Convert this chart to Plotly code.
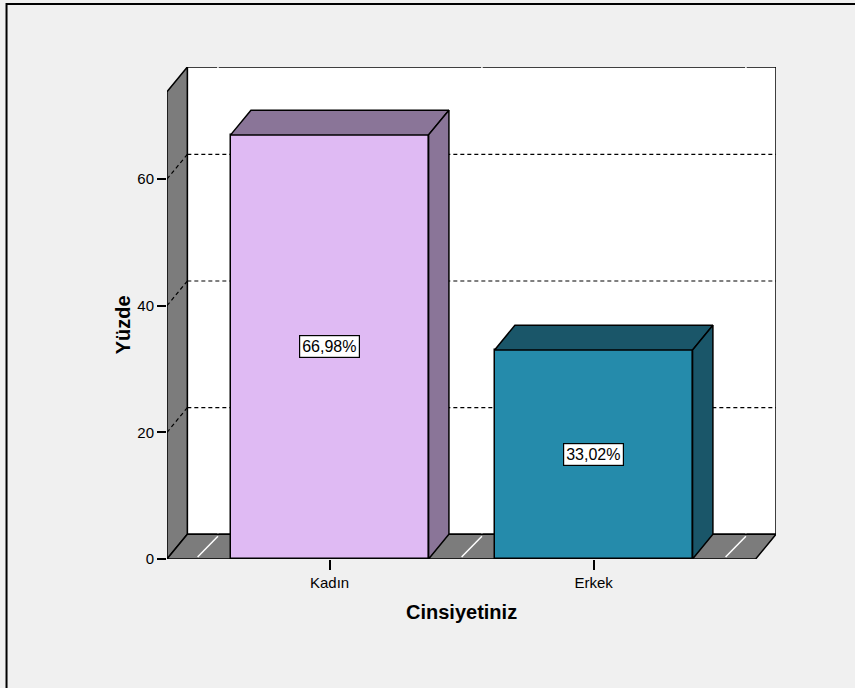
import plotly.graph_objects as go

# ---- data ----
categories = ["Kadın", "Erkek"]
percentages = [66.98, 33.02]
y_ticks = [0, 20, 40, 60]
x_title = "Cinsiyetiniz"
y_title = "Yüzde"

# ---- styling ----
front_colors = ["#DFBAF3", "#258BAB"]
shade_colors = ["#8A7598", "#1A5669"]
wall_grey = "#7C7C7C"
bg = "#F0F0F0"
font_family = "Liberation Sans, Arial, sans-serif"

# axis geometry (category units / percent units)
x_lo, x_hi = -0.616, 1.691
y_lo, y_hi = 0.0, 77.7
dx, dy = 0.077, 3.9          # depth offset of the back plane
bar_w = 0.75
front_top = y_hi - dy
xpos = list(range(len(categories)))

# plot area in pixels
L, R, T, B = 167, 79, 67, 129
W, H = 855, 688
pw, ph = W - L - R, H - T - B

fig = go.Figure()

grid_dash = "4px,3px"
shapes = []
# back wall
shapes.append(dict(type="rect", xref="x", yref="y", x0=x_lo + dx, x1=x_hi, y0=dy, y1=y_hi,
                   fillcolor="white", line=dict(color="black", width=1.5), layer="below"))
# white category dividers on the back wall
for b in [-0.5, 0.5, 1.5]:
    shapes.append(dict(type="line", xref="x", yref="y", x0=b + dx, x1=b + dx, y0=dy, y1=y_hi,
                       line=dict(color="white", width=1.5), layer="below"))
# left side wall
shapes.append(dict(type="path", xref="x", yref="y",
                   path=f"M {x_lo},{y_lo} L {x_lo + dx},{dy} L {x_lo + dx},{y_hi} L {x_lo},{front_top} Z",
                   fillcolor=wall_grey, line=dict(color="black", width=1.5), layer="below"))
# floor
shapes.append(dict(type="path", xref="x", yref="y",
                   path=f"M {x_lo},{y_lo} L {x_hi - dx},{y_lo} L {x_hi},{dy} L {x_lo + dx},{dy} Z",
                   fillcolor=wall_grey, line=dict(color="black", width=1.5), layer="below"))
# white category dividers on the floor
for b in [-0.5, 0.5, 1.5]:
    shapes.append(dict(type="line", xref="x", yref="y", x0=b, x1=b + dx, y0=0.3, y1=dy - 0.3,
                       line=dict(color="white", width=1.5), layer="below"))
# dashed gridlines: across the side wall, then along the back wall
for t in y_ticks[1:]:
    shapes.append(dict(type="line", xref="x", yref="y", x0=x_lo, x1=x_lo + dx, y0=t, y1=t + dy,
                       line=dict(color="black", width=1.2, dash=grid_dash), layer="below"))
    shapes.append(dict(type="line", xref="x", yref="y", x0=x_lo + dx, x1=x_hi, y0=t + dy, y1=t + dy,
                       line=dict(color="black", width=1.2, dash=grid_dash), layer="below"))
# outer frame
shapes.append(dict(type="rect", xref="paper", yref="paper", x0=-0.2635, x1=1.3, y0=-0.4,
                   y1=(H - B - 4) / ph,
                   fillcolor="rgba(0,0,0,0)", line=dict(color="black", width=2), layer="above"))

# front faces of the bars
fig.add_trace(go.Bar(x=xpos, y=percentages, width=bar_w, base=0,
                     marker=dict(color=front_colors, line=dict(color="black", width=1.5)),
                     hoverinfo="skip", showlegend=False))

# top and side faces of the bars
for c, v, col in zip(xpos, percentages, shade_colors):
    l, r = c - bar_w / 2, c + bar_w / 2
    fig.add_trace(go.Scatter(x=[l, l + dx, r + dx, r, l], y=[v, v + dy, v + dy, v, v],
                             mode="lines", fill="toself", fillcolor=col,
                             line=dict(color="black", width=1.5),
                             hoverinfo="skip", showlegend=False))
    fig.add_trace(go.Scatter(x=[r, r + dx, r + dx, r, r], y=[0, dy, v + dy, v, 0],
                             mode="lines", fill="toself", fillcolor=col,
                             line=dict(color="black", width=1.5),
                             hoverinfo="skip", showlegend=False))

# value labels
annotations = []
for c, v in zip(xpos, percentages):
    annotations.append(dict(x=c, y=v / 2, xref="x", yref="y", showarrow=False,
                            text=f"{v:.2f}".replace(".", ",") + "%",
                            font=dict(family=font_family, size=16, color="black"),
                            bgcolor="white", bordercolor="black", borderwidth=1.2, borderpad=2))
# axis titles
annotations.append(dict(x=(x_lo + x_hi - dx) / 2, y=(H - B - 612) / ph, xref="x", yref="paper",
                        showarrow=False, text=f"<b>{x_title}</b>",
                        font=dict(family=font_family, size=20, color="black"),
                        xanchor="center", yanchor="middle"))
annotations.append(dict(x=(123 - L) / pw, y=front_top / 2, xref="paper", yref="y", showarrow=False,
                        text=f"<b>{y_title}</b>", textangle=-90,
                        font=dict(family=font_family, size=20, color="black"),
                        xanchor="center", yanchor="middle"))

fig.update_layout(
    width=W, height=H,
    margin=dict(l=L, r=R, t=T, b=B, pad=0),
    paper_bgcolor=bg, plot_bgcolor=bg,
    shapes=shapes, annotations=annotations,
    font=dict(family=font_family, size=15, color="black"),
    xaxis=dict(range=[x_lo, x_hi], tickvals=xpos, ticktext=categories,
               ticks="outside", ticklen=10, tickwidth=1.5, tickcolor="black",
               showgrid=False, zeroline=False, showline=False, fixedrange=True,
               tickfont=dict(size=15)),
    yaxis=dict(range=[y_lo, y_hi], tickvals=y_ticks,
               ticks="outside", ticklen=9, tickwidth=1.5, tickcolor="black",
               showgrid=False, zeroline=False, showline=False, fixedrange=True,
               tickfont=dict(size=15)),
    bargap=0,
)

fig.write_html("out.html", config={"displayModeBar": False})
